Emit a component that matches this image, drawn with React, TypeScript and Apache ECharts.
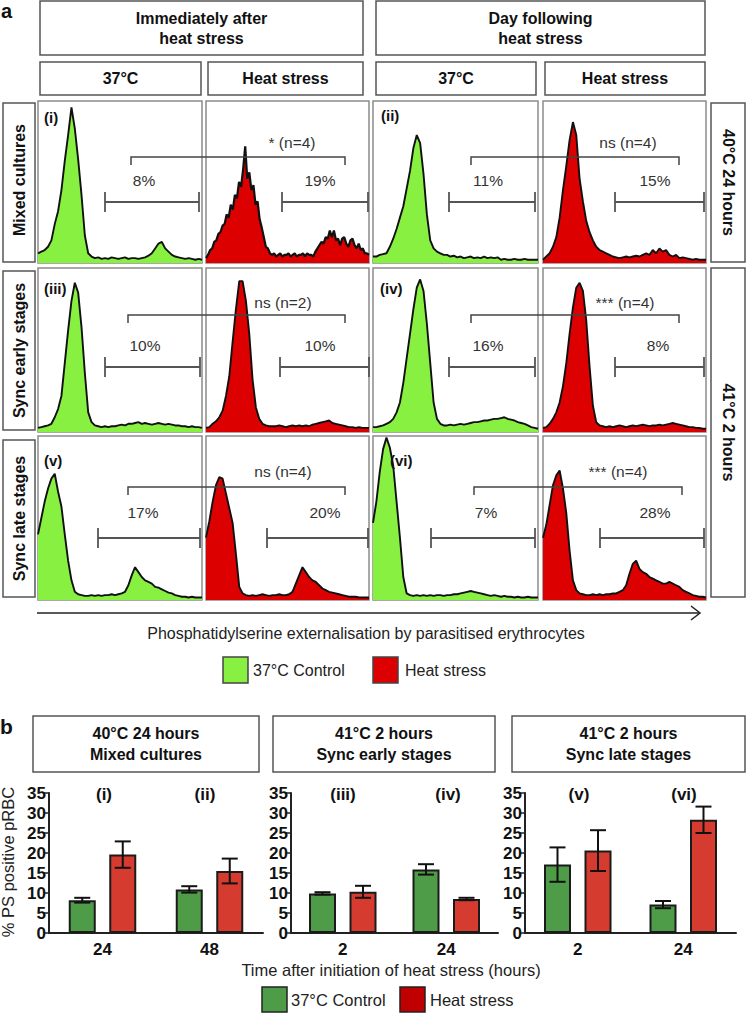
import React, { useEffect, useRef } from "react";
import * as echarts from "echarts";

const FONT = '"Liberation Sans", Arial, Helvetica, sans-serif';

// ---------- Panel a: flow cytometry histograms (% of panel height per channel bin) ----------
const hist_i_ctrl = [6,7,8,10,14,24,32,45,63,79,96,83,64,42,17,6,4,3,3.5,2.5,3,2.5,3.5,3,2.5,3,3.5,2.5,3,3,2.5,3,3.5,4.5,6,9,12,13,9,7,5,4,3.5,3,2.5,3,2.5,2,2.5,2];
const hist_i_heat = [3,5,8,9,13,14,18,19,23,24,30,28,36,33,42,40,50,47,58,72,52,56,45,48,36,38,27,22,16,10,9,6,
  5,6,4,5,6,4,5,5,6,4,5,6,4,5,5,6,4,6,5,5,4,
  7,9,11,13,12,16,15,20,16,20,14,15,11,15,16,12,10,14,15,11,9,12,8,9,6,6,5];
const hist_ii_ctrl = [4,4,5,5.5,6,10,15,21,28,35,46,57,71,79,74,55,30,14,9,7,6,5,5,4,4.5,3.5,4,3,3.5,4,3,3.5,3,4,3,3.5,3,3.5,2,2.5,2,2,2.5,2,2,2.5,2,2,2,2];
const hist_ii_heat = [2,4,6,10,16,28,45,60,76,87,79,52,38,26,19,14,10,8,7,6,5,4,3.5,3,3.5,4,3.5,4,4.5,4,5,6,5,8,6,9,7,8,5,4,5,3,3.5,3,2.5,2,2.5,2,2,2];
const hist_iii_ctrl = [2.5,3,3.5,4,5,9,14,22,42,62,80,91,85,64,36,12,6,4,3.5,3,3.5,3,3.5,3.5,4,4.5,4,5,5,5.5,6,5,5.5,5,4.5,5,5.5,5,4.5,5,4.5,4,4,3.5,3.5,3,3.5,3,3,2.5];
const hist_iii_heat = [2.5,3,5,6.5,9,13,22,34,55,75,92,92,80,60,32,15,8,5,4,3.5,3.5,3.5,4,3.5,3,3.5,4,3.5,4,3.5,4,3.5,4.5,5,5.5,6,6.5,7,5.5,5,4.5,4,3.5,3,3,2.5,3,2.5,2.5,2.5];
const hist_iv_ctrl = [3,3,3.5,4,5,6,8,12,18,30,45,60,75,88,93,86,66,42,18,8,5,4,4,4.5,4,4.5,5,4.5,5,5.5,6,6,6.5,7,7,7.5,8,8,8.5,9,8,7.5,7,6,5.5,5,4,3,2.5,2];
const hist_iv_heat = [2.5,3,5,8,12,18,28,42,60,76,88,91,86,68,40,16,6,4,3.5,3,3.5,3,3.5,4,3.5,3,3.5,4,3.5,4,4.5,4,3.5,4,4,4.5,4,4.5,5,5.5,5,4.5,4,3.5,3,3,2.5,2.5,2,2];
const hist_v_ctrl = [40,50,60,68,74,77,66,57,40,24,12,5,3.5,3,2.5,2.5,3,2.5,3,2.5,3,3,3.5,3,3.5,4,5,9,15,20,17,14,12,11,10,8,7.5,6.5,5.5,4.5,4,3,2.5,2,2,1.5,2,1.5,1.5,1.5];
const hist_v_heat = [38,48,60,70,75,74,65,56,47,28,8,4,3,2.5,3,2.5,3,3.5,3,2.5,3,3,3.5,3,3,3.5,5,10,15,20,17,14,12,11,9,7,6,5,4.5,4,3.5,3,2.5,2,2,2,1.5,1.5,1.5,1.5];
const hist_vi_ctrl = [47,60,78,92,99,93,82,60,38,14,4,3,2.5,3,2.5,3,2.5,3,2.5,3,3,2.5,3,3,3.5,3.5,4,4.5,5,5.5,5,4.5,4,3.5,3,2.5,3,2.5,2,2.5,2,2,1.5,2,1.5,1.5,2,1.5,1.5,1.5];
const hist_vi_heat = [38,46,58,70,76,79,68,53,30,12,6,4,3.5,3,3,3.5,3,3.5,3,3.5,3.5,4,4,5,6,9,16,22,24,19,17,16,14,13,12,11,10,10,11,10,9,8,6,5,4,3,2.5,2,2,1.5];

const gatePercents = [["8%", "19%", "11%", "15%"], ["10%", "10%", "16%", "8%"], ["17%", "20%", "7%", "28%"]];
const statLabels = [["* (n=4)", "ns (n=4)"], ["ns (n=2)", "*** (n=4)"], ["ns (n=4)", "*** (n=4)"]];
const panelRoman = ["(i)", "(ii)", "(iii)", "(iv)", "(v)", "(vi)"];

// ---------- Panel b: bar charts ----------
const cats1 = ["24", "48"];
const cats2 = ["2", "24"];
const cats3 = ["2", "24"];
const ctrl1 = [8.2, 10.9];
const ctrlErr1 = [0.6, 0.8];
const heat1 = [19.6, 15.5];
const heatErr1 = [3.3, 3.1];
const ctrl2 = [9.9, 15.9];
const ctrlErr2 = [0.3, 1.3];
const heat2 = [10.3, 8.5];
const heatErr2 = [1.5, 0.3];
const ctrl3 = [17.1, 7.1];
const ctrlErr3 = [4.3, 0.9];
const heat3 = [20.6, 28.3];
const heatErr3 = [5.1, 3.3];
const yTicksMax = 35;
const yTickStep = 5;

const GREEN_HIST = "#88f040";
const RED_HIST = "#dd0000";
const GREEN_BAR = "#4e9c47";
const RED_BAR = "#d63b30";

function txt(x: number, y: number, text: string, size: number, bold: boolean, opts: any = {}) {
  const align = opts.align || "center";
  return {
    type: "text", x, y, rotation: opts.rot || 0, z: 120, silent: true,
    style: {
      text, x: 0, y: 0, fill: opts.color || "#111",
      fontSize: size, fontWeight: bold ? "bold" : "normal", fontFamily: FONT,
      textAlign: align, textVerticalAlign: "middle", align, verticalAlign: "middle",
      lineHeight: opts.lh || Math.round(size * 1.25),
    },
  };
}
function box(x: number, y: number, w: number, h: number, fill = "#fff", stroke = "#555") {
  return { type: "rect", z: 50, silent: true, shape: { x, y, width: w, height: h }, style: { fill, stroke, lineWidth: 1.5 } };
}
function ln(x1: number, y1: number, x2: number, y2: number, color = "#555", w = 1.5) {
  return { type: "line", z: 110, silent: true, shape: { x1, y1, x2, y2 }, style: { stroke: color, lineWidth: w } };
}
function pl(points: number[][], color = "#555", w = 1.5) {
  return { type: "polyline", z: 110, silent: true, shape: { points }, style: { stroke: color, lineWidth: w, fill: null } };
}

function buildOption() {
  const colsX = [[38, 202], [206, 369], [373, 538], [543, 706]];
  const rowsY = [[101, 263], [268, 432], [436, 600]];
  const panels = [
    [hist_i_ctrl, hist_i_heat, hist_ii_ctrl, hist_ii_heat],
    [hist_iii_ctrl, hist_iii_heat, hist_iv_ctrl, hist_iv_heat],
    [hist_v_ctrl, hist_v_heat, hist_vi_ctrl, hist_vi_heat],
  ];
  const grid: any[] = [];
  const xAxis: any[] = [];
  const yAxis: any[] = [];
  const series: any[] = [];

  panels.forEach((row, r) =>
    row.forEach((arr, c) => {
      const k = grid.length;
      const [x0, x1] = colsX[c];
      const [y0, y1] = rowsY[r];
      grid.push({ left: x0, top: y0, width: x1 - x0, height: y1 - y0, show: true, borderColor: "#8c8c8c", borderWidth: 1.5, backgroundColor: "#fff" });
      xAxis.push({ gridIndex: k, type: "value", min: 0, max: arr.length - 1, show: false });
      yAxis.push({ gridIndex: k, type: "value", min: 0, max: 100, show: false });
      series.push({
        type: "line", xAxisIndex: k, yAxisIndex: k, silent: true,
        data: arr.map((v, i) => [i, v]), symbol: "none", showSymbol: false,
        lineStyle: { color: "#111", width: arr.length > 60 ? 2.2 : 1.9 },
        areaStyle: { color: c % 2 === 0 ? GREEN_HIST : RED_HIST, opacity: 1 },
      });
    })
  );

  // bar charts
  const barGridsX = [[49, 263], [291, 498], [525, 736]];
  const barSets = [
    { cats: cats1, ctrl: ctrl1, ce: ctrlErr1, heat: heat1, he: heatErr1 },
    { cats: cats2, ctrl: ctrl2, ce: ctrlErr2, heat: heat2, he: heatErr2 },
    { cats: cats3, ctrl: ctrl3, ce: ctrlErr3, heat: heat3, he: heatErr3 },
  ];
  const BW = 27;
  const off = (BW * 1.5) / 2;
  barSets.forEach((s, j) => {
    const k = grid.length;
    const [x0, x1] = barGridsX[j];
    grid.push({ left: x0, top: 793, width: x1 - x0, height: 140 });
    xAxis.push({
      gridIndex: k, type: "category", data: s.cats,
      axisLine: { lineStyle: { color: "#222", width: 2 } },
      axisTick: { alignWithLabel: true, length: 5, lineStyle: { color: "#222", width: 1.5 } },
      axisLabel: { fontFamily: FONT, fontWeight: "bold", fontSize: 17, color: "#111", margin: 8 },
    });
    yAxis.push({
      gridIndex: k, type: "value", min: 0, max: yTicksMax, interval: yTickStep,
      axisLine: { show: true, lineStyle: { color: "#222", width: 2 } },
      axisTick: { show: true, length: 5, lineStyle: { color: "#222", width: 1.5 } },
      axisLabel: { fontFamily: FONT, fontWeight: "bold", fontSize: 17, color: "#111", margin: 3 },
      splitLine: { show: false },
    });
    series.push({
      type: "bar", name: "37°C Control", xAxisIndex: k, yAxisIndex: k, data: s.ctrl,
      barWidth: BW, barGap: "50%", silent: true,
      itemStyle: { color: GREEN_BAR, borderColor: "#1b1b1b", borderWidth: 2 },
    });
    series.push({
      type: "bar", name: "Heat stress", xAxisIndex: k, yAxisIndex: k, data: s.heat,
      barWidth: BW, barGap: "50%", silent: true,
      itemStyle: { color: RED_BAR, borderColor: "#1b1b1b", borderWidth: 2 },
    });
    const mkErr = (means: number[], errs: number[], dx: number) => ({
      type: "custom", xAxisIndex: k, yAxisIndex: k, silent: true, z: 5,
      data: means.map((m, i) => [i, m, errs[i]]),
      encode: { x: 0, y: 1 },
      renderItem: (_p: any, api: any) => {
        const i = api.value(0);
        const m = api.value(1);
        const e = api.value(2);
        const t = api.coord([i, m + e]);
        const b = api.coord([i, m - e]);
        const x = t[0] + dx;
        const st = { stroke: "#111", lineWidth: 2 };
        return {
          type: "group",
          children: [
            { type: "line", shape: { x1: x, y1: t[1], x2: x, y2: b[1] }, style: st },
            { type: "line", shape: { x1: x - 8, y1: t[1], x2: x + 8, y2: t[1] }, style: st },
            { type: "line", shape: { x1: x - 8, y1: b[1], x2: x + 8, y2: b[1] }, style: st },
          ],
        };
      },
    });
    series.push(mkErr(s.ctrl, s.ce, -off));
    series.push(mkErr(s.heat, s.he, off));
  });

  // ---------- graphics ----------
  const g: any[] = [];
  g.push(txt(1, 11, "a", 20, true, { align: "left" }));
  g.push(box(40, 1, 323, 54), txt(201.5, 28, "Immediately after\nheat stress", 16, true, { lh: 20 }));
  g.push(box(376, 1, 329, 54), txt(540.5, 28, "Day following\nheat stress", 16, true, { lh: 20 }));
  g.push(box(40, 62, 161, 33), txt(120.5, 78.5, "37°C", 16, true));
  g.push(box(208, 62, 155, 33), txt(285.5, 78.5, "Heat stress", 16, true));
  g.push(box(376, 62, 160, 33), txt(456, 78.5, "37°C", 16, true));
  g.push(box(545, 62, 160, 33), txt(625, 78.5, "Heat stress", 16, true));

  g.push(box(3, 103, 32, 159), txt(19, 180, "Mixed cultures", 16, true, { rot: Math.PI / 2 }));
  g.push(box(3, 271, 32, 159), txt(19, 350.5, "Sync early stages", 16, true, { rot: Math.PI / 2 }));
  g.push(box(3, 440, 32, 157), txt(19, 518.5, "Sync late stages", 16, true, { rot: Math.PI / 2 }));
  g.push(box(711, 103, 34, 159), txt(728, 182.5, "40°C 24 hours", 16, true, { rot: -Math.PI / 2 }));
  g.push(box(711, 268, 34, 329), txt(728, 432.5, "41°C 2 hours", 16, true, { rot: -Math.PI / 2 }));

  // panel roman numerals
  const romanPos = [[44, 117], [381, 115], [44, 288], [380, 288], [44, 460], [390, 460]];
  romanPos.forEach((p, i) => g.push(txt(p[0], p[1], panelRoman[i], 15, true, { align: "left" })));

  // gates, percentages, brackets
  const rowAnn = [
    { gy: 202, py: 180, by: 157, ny: 142, gates: [[105, 199], [282, 368], [449, 535], [615, 704]], px: [144, 320, 488, 655], br: [[131, 345], [471, 679]], nx: [292, 628] },
    { gy: 367, py: 345, by: 315, ny: 302, gates: [[105, 200], [280, 369], [449, 535], [615, 704]], px: [145, 320, 488, 658], br: [[128, 345], [471, 679]], nx: [283, 625] },
    { gy: 538, py: 512, by: 487, ny: 471, gates: [[98, 200], [267, 368], [431, 535], [600, 704]], px: [143, 325, 486, 655], br: [[128, 345], [474, 682]], nx: [283, 618] },
  ];
  rowAnn.forEach((a, r) => {
    a.gates.forEach((gt, c) => {
      g.push(ln(gt[0], a.gy, gt[1], a.gy, "#555", 1.8));
      g.push(ln(gt[0], a.gy - 10, gt[0], a.gy + 10, "#555", 1.8));
      g.push(ln(gt[1], a.gy - 10, gt[1], a.gy + 10, "#555", 1.8));
      g.push(txt(a.px[c], a.py, gatePercents[r][c], 15.5, false, { color: "#333" }));
    });
    a.br.forEach((b, j) => {
      g.push(pl([[b[0], a.by + 8], [b[0], a.by], [b[1], a.by], [b[1], a.by + 8]], "#444", 1.5));
      g.push(txt(a.nx[j], a.ny, statLabels[r][j], 15.5, false, { color: "#333" }));
    });
  });

  // axis arrow
  g.push(ln(37, 613, 700, 613, "#222", 1.5));
  g.push(pl([[691, 606], [700, 613], [691, 620]], "#222", 1.5));
  g.push(txt(366, 633, "Phosphatidylserine externalisation by parasitised erythrocytes", 16, false, { color: "#222" }));

  // legend a
  g.push(box(223, 657, 25, 26, GREEN_HIST, "#444"), txt(253, 670, "37°C Control", 16, false, { align: "left", color: "#222" }));
  g.push(box(373, 657, 25, 26, RED_HIST, "#444"), txt(405, 670, "Heat stress", 16, false, { align: "left", color: "#222" }));

  // panel b headers
  g.push(txt(0, 726, "b", 21, true, { align: "left" }));
  g.push(box(33, 716, 226, 56), txt(146, 744, "40°C 24 hours\nMixed cultures", 16, true, { lh: 21 }));
  g.push(box(273, 716, 222, 56), txt(384, 744, "41°C 2 hours\nSync early stages", 16, true, { lh: 21 }));
  g.push(box(512, 716, 233, 56), txt(628.5, 744, "41°C 2 hours\nSync late stages", 16, true, { lh: 21 }));

  const barRomanX = [104, 205, 343, 448, 579, 684];
  barRomanX.forEach((x, i) => g.push(txt(x, 794, panelRoman[i], 17, true)));

  g.push(txt(8, 862, "% PS positive pRBC", 16.5, false, { rot: Math.PI / 2, color: "#222" }));
  g.push(txt(391, 970, "Time after initiation of heat stress (hours)", 16.5, false, { color: "#222" }));

  // legend b
  g.push(box(262, 987, 25, 25, GREEN_BAR, "#222"), txt(291, 1000, "37°C Control", 16.5, false, { align: "left", color: "#222" }));
  g.push(box(400, 987, 25, 25, "#c00000", "#222"), txt(430, 1000, "Heat stress", 16.5, false, { align: "left", color: "#222" }));

  return {
    animation: false,
    backgroundColor: "#fff",
    grid, xAxis, yAxis, series,
    graphic: { elements: g },
  };
}

export default function App() {
  const ref = useRef<HTMLDivElement>(null);
  useEffect(() => {
    const chart = echarts.init(ref.current as HTMLDivElement, null, { renderer: "svg" });
    chart.setOption(buildOption() as any);
    return () => chart.dispose();
  }, []);
  return <div ref={ref} style={{ position: "absolute", left: 0, top: 0, width: 746, height: 1013, background: "#fff" }} />;
}
